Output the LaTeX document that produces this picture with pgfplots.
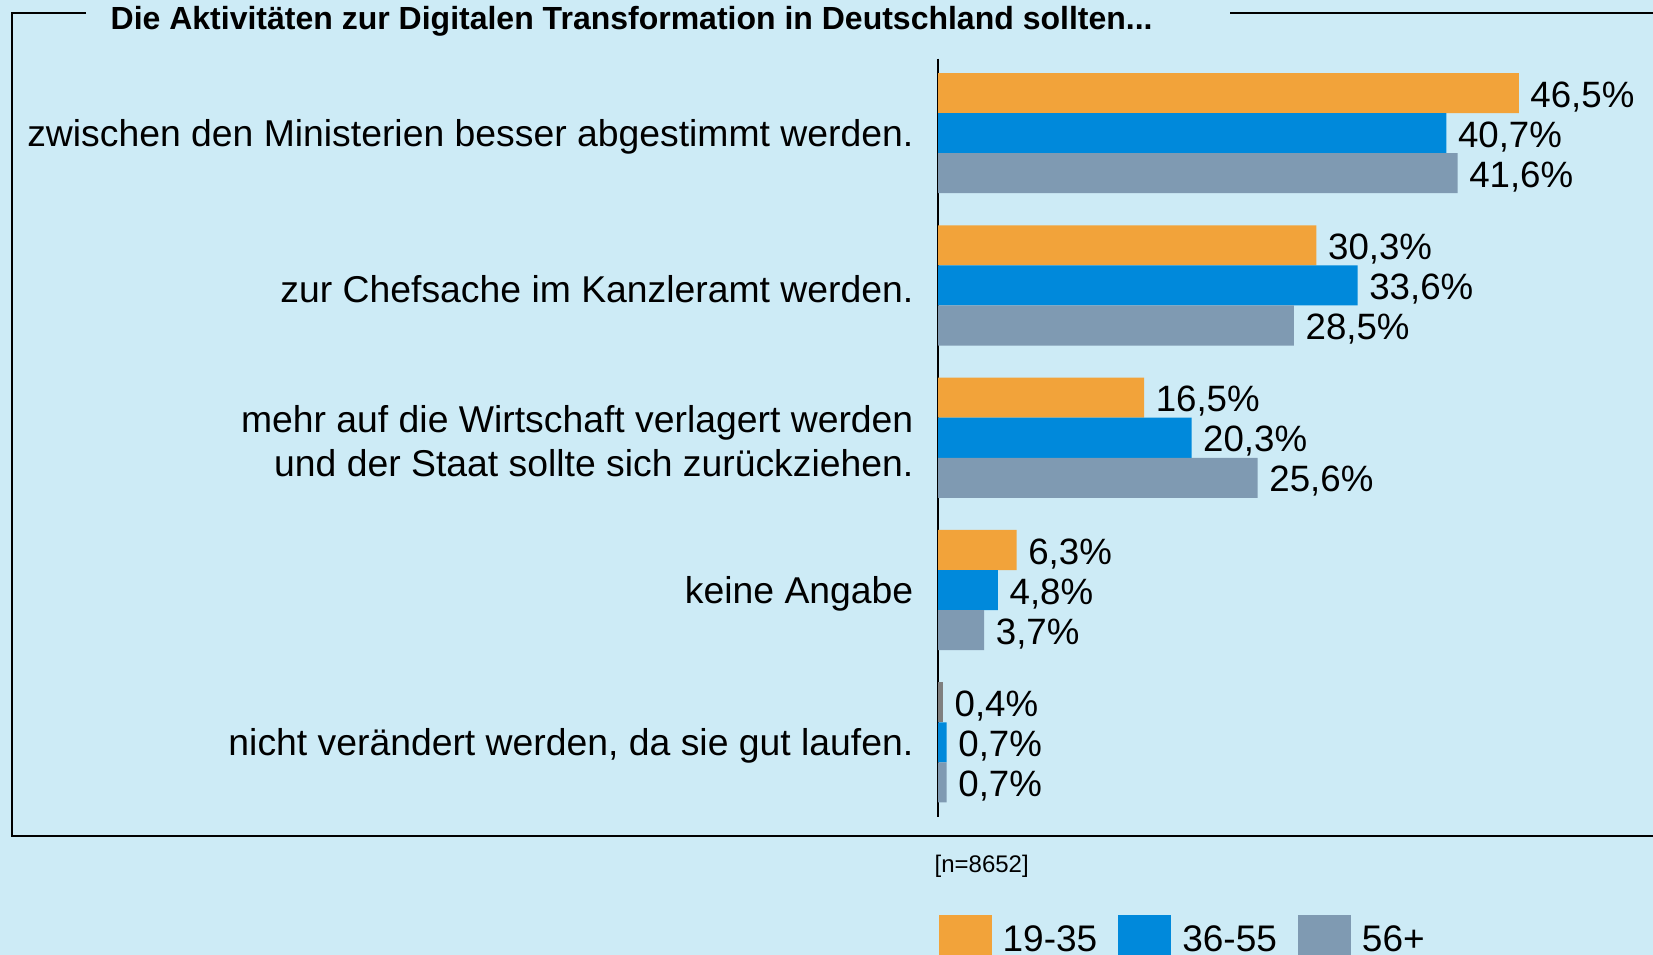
\documentclass[border=0pt]{standalone}
\usepackage{fontspec}
\setmainfont{Liberation Sans}
\usepackage{pgfplots}
\pgfplotsset{compat=1.18}

\definecolor{bgblue}{HTML}{CDEBF6}
\definecolor{cOrange}{HTML}{F2A33A}
\definecolor{cBlue}{HTML}{0089DB}
\definecolor{cGrey}{HTML}{7F9AB2}
\definecolor{cDark}{HTML}{7F7F7F}

\begin{document}
\begin{tikzpicture}
\clip (0,0) rectangle (495.9pt,-286.5pt);
\fill[bgblue] (0,0) rectangle (495.9pt,-286.5pt);
% pixel grid of the reference: 1 px = 0.3pt, y down
\begin{scope}[x=0.3pt,y=-0.3pt]
  \draw[line width=0.6pt] (86,12.6) -- (11.6,12.6) -- (11.6,836) -- (1660,836);
  \draw[line width=0.6pt] (1230,12.6) -- (1660,12.6);
  \node[anchor=west, inner sep=0pt, font=\bfseries\fontsize{9.6}{11}\selectfont] at (110,21)
    {Die Aktivitäten zur Digitalen Transformation in Deutschland sollten...};
  \node[anchor=west, inner sep=0pt, font=\fontsize{7.2}{8}\selectfont] at (934,866) {[n=8652]};
  \coordinate (sw) at (938,817);
\end{scope}

\begin{axis}[
    at={(sw)}, anchor=south west,
    scale only axis,
    width=187.35pt, height=227.55pt,
    xbar, bar width=0.263,
    xmin=0, xmax=50,
    ymin=-0.49, ymax=4.49,
    y dir=reverse,
    axis x line=none,
    axis y line*=left,
    y axis line style={line width=0.4pt},
    ytick={0,1,2,3,4},
    yticklabels={
        zwischen den Ministerien besser abgestimmt werden.,
        zur Chefsache im Kanzleramt werden.,
        {mehr auf die Wirtschaft verlagert werden\\und der Staat sollte sich zurückziehen.},
        keine Angabe,
        {nicht verändert werden, da sie gut laufen.}},
    major tick length=0pt,
    yticklabel style={align=right, inner sep=0pt, xshift=-7.2pt, yshift=-1pt,
        font=\fontsize{11.2}{13.2}\selectfont},
    point meta=x,
    nodes near coords={\pgfmathprintnumber[fixed,fixed zerofill,precision=1,use comma,assume math mode=true]{\pgfplotspointmeta}\%},
    every node near coord/.append style={anchor=west, inner sep=0pt, xshift=3.3pt, yshift=-1.1pt,
        font=\fontsize{11}{13}\selectfont, text=black},
    clip=false,
    legend style={at={(0,-0.1635)}, anchor=west, draw=none, fill=none,
        inner sep=0pt, legend columns=3, overlay,
        font=\fontsize{11.1}{13}\selectfont,
        /tikz/every odd column/.append style={column sep=1.3pt},
        /tikz/every even column/.append style={column sep=4.3pt}},
    legend image code/.code={\fill[#1] (0pt,-7.95pt) rectangle (15.9pt,7.95pt);},
]
% 19-35
\addplot[fill=cOrange, draw=none, bar shift=-0.263] coordinates {
    (46.5,0) (30.3,1) (16.5,2) (6.3,3)};
\addlegendentry{19-35}
% 36-55
\addplot[fill=cBlue, draw=none, bar shift=0] coordinates {
    (40.7,0) (33.6,1) (20.3,2) (4.8,3) (0.7,4)};
\addlegendentry{36-55}
% 56+
\addplot[fill=cGrey, draw=none, bar shift=0.263] coordinates {
    (41.6,0) (28.5,1) (25.6,2) (3.7,3) (0.7,4)};
\addlegendentry{56+}
% 19-35, last category (drawn dark grey in the reference)
\addplot[fill=cDark, draw=none, bar shift=-0.263, forget plot] coordinates {
    (0.4,4)};
\end{axis}
\end{tikzpicture}
\end{document}
